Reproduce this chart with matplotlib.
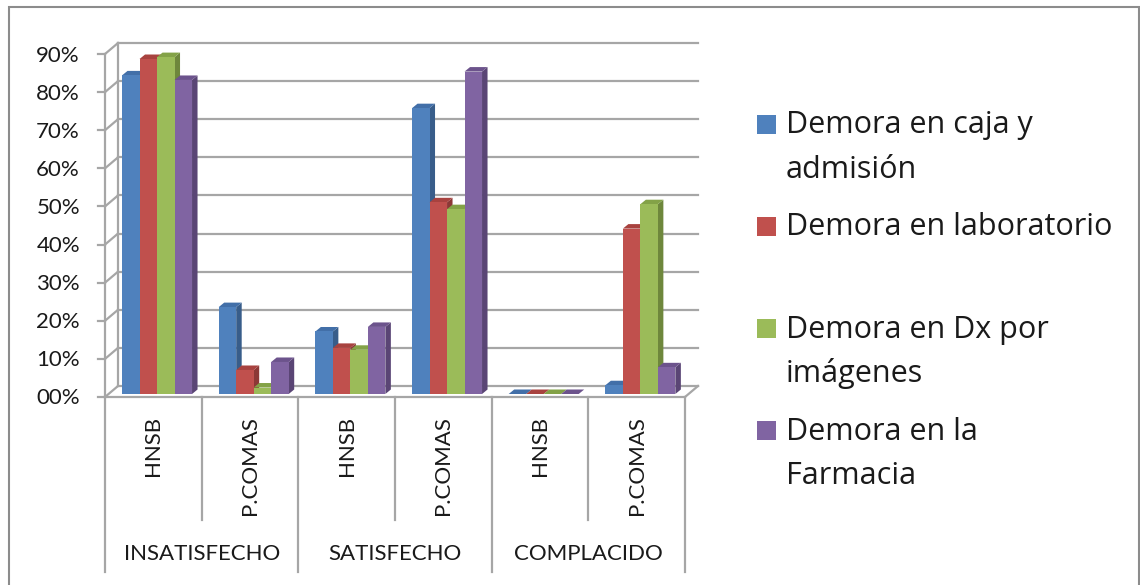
import matplotlib
matplotlib.use('Agg')
import matplotlib.pyplot as plt
from matplotlib.patches import Polygon, Rectangle

plt.rcParams['font.family'] = ['Lato', 'DejaVu Sans']

# ---------------- data ----------------
groups = ['INSATISFECHO', 'SATISFECHO', 'COMPLACIDO']
subcats = ['HNSB', 'P.COMAS', 'HNSB', 'P.COMAS', 'HNSB', 'P.COMAS']
series_names = ['Demora en caja y\nadmisión', 'Demora en laboratorio',
                'Demora en Dx por\nimágenes', 'Demora en la\nFarmacia']
caja = [83.6, 22.8, 16.4, 75.0, 0.0, 2.3]
laboratorio = [87.9, 6.3, 12.1, 50.3, 0.0, 43.4]
imagenes = [88.4, 1.7, 11.6, 48.5, 0.0, 49.8]
farmacia = [82.4, 8.4, 17.6, 84.6, 0.0, 7.0]
yticks = [0, 10, 20, 30, 40, 50, 60, 70, 80, 90]
ytick_labels = ['00%', '10%', '20%', '30%', '40%', '50%', '60%', '70%', '80%', '90%']

series = [caja, laboratorio, imagenes, farmacia]
# front, top, side colours
colors = [('#4F81BD', '#426FA8', '#385D8A'),
          ('#C0504D', '#A8423F', '#8C3836'),
          ('#9BBB59', '#83A247', '#6E873C'),
          ('#8064A2', '#6C538C', '#5A4575')]

W, H = 1140, 585
fig = plt.figure(figsize=(W / 100, H / 100), dpi=100)
fig.patch.set_facecolor('white')
AX_L, AX_R, AX_T, AX_B = 105, 685, 54, 397
ax = fig.add_axes([AX_L / W, 1 - AX_B / H, (AX_R - AX_L) / W, (AX_B - AX_T) / H])
n = len(subcats)
x0, x1 = -0.5, n - 0.5
ax.set_xlim(x0, x1)
ax.set_ylim(0, 90)
ax.axis('off')

px_x = (x1 - x0) / (AX_R - AX_L)
px_y = 90 / (AX_B - AX_T)


def dx(p):
    return p * px_x


def dy(p):
    return p * px_y


grid_kw = dict(color='#a6a6a6', lw=1.6, clip_on=False, zorder=1,
               solid_capstyle='projecting')
BX, BY = 13, 11
for v, lab in zip(yticks, ytick_labels):
    ax.plot([x0 - dx(7), x0], [v, v], **grid_kw)
    ax.plot([x0, x0 + dx(BX)], [v, v + dy(BY)], **grid_kw)
    ax.plot([x0 + dx(BX), x1 + dx(BX)], [v + dy(BY)] * 2, **grid_kw)
    ax.text(x0 - dx(25), v - dy(1.5), lab, ha='right', va='center',
            fontsize=16, color='#1a1a1a')
# floor and walls
ax.plot([x0, x1], [0, 0], **grid_kw)
ax.plot([x1, x1 + dx(BX)], [0, dy(BY)], **grid_kw)
ax.plot([x0, x0], [0, 90], **grid_kw)
ax.plot([x0 + dx(BX)] * 2, [dy(BY), 90 + dy(BY)], **grid_kw)

# category axis separators
for k in range(n + 1):
    depth = 175 if k % 2 == 0 else 123
    ax.plot([x0 + k] * 2, [0, -dy(depth)], **grid_kw)
for i, lab in enumerate(subcats):
    ax.text(i, -dy(19), lab, rotation=90, ha='center', va='top',
            fontsize=16, color='#1a1a1a')
for g, lab in enumerate(groups):
    ax.text(2 * g + 0.5, -dy(157), lab, ha='center', va='center',
            fontsize=16, color='#1a1a1a')

# 3-D looking bars
w = dx(17.5)
shx = dx(3.7)
base = dy(3)
DX, DY = dx(5.5), dy(4.5)
for j, (vals, (cf, ct, cs)) in enumerate(zip(series, colors)):
    lefts = [i - 2 * w + shx + j * w for i in range(n)]
    ax.bar(lefts, vals, width=w, bottom=base, align='edge', color=cf,
           edgecolor='none', zorder=11 + 2 * j, clip_on=False)
    for xl, v in zip(lefts, vals):
        top = base + v
        side = Polygon([(xl + w, base), (xl + w + DX, base + DY),
                        (xl + w + DX, top + DY), (xl + w, top)],
                       closed=True, facecolor=cs, edgecolor='none',
                       zorder=10 + 2 * j, clip_on=False)
        topf = Polygon([(xl, top), (xl + DX, top + DY),
                        (xl + w + DX, top + DY), (xl + w, top)],
                       closed=True, facecolor=ct, edgecolor='none',
                       zorder=10 + 2 * j, clip_on=False)
        ax.add_patch(side)
        ax.add_patch(topf)

# legend (manual, Excel style)
ENTRY_Y0, ENTRY_STEP, LINE_STEP = 133, 102.3, 44.5
for k, (name, (cf, _, _)) in enumerate(zip(series_names, colors)):
    yb = ENTRY_Y0 + k * ENTRY_STEP
    fig.add_artist(Rectangle((757 / W, 1 - (yb + 0.5) / H), 19 / W, 19 / H,
                             transform=fig.transFigure, facecolor=cf,
                             edgecolor='none'))
    for li, line in enumerate(name.split('\n')):
        fig.text(786 / W, 1 - (yb + li * LINE_STEP) / H, line,
                 ha='left', va='baseline', fontsize=22, color='#1a1a1a',
                 family=['Open Sans', 'DejaVu Sans'])

# outer frame
fig.add_artist(Rectangle((9 / W, -0.05), 1129.5 / W, (585 - 7) / H + 0.05,
                         transform=fig.transFigure, fill=False,
                         edgecolor='#8c8c8c', lw=1.5))

fig.savefig('out.png', dpi=100, facecolor='white')
